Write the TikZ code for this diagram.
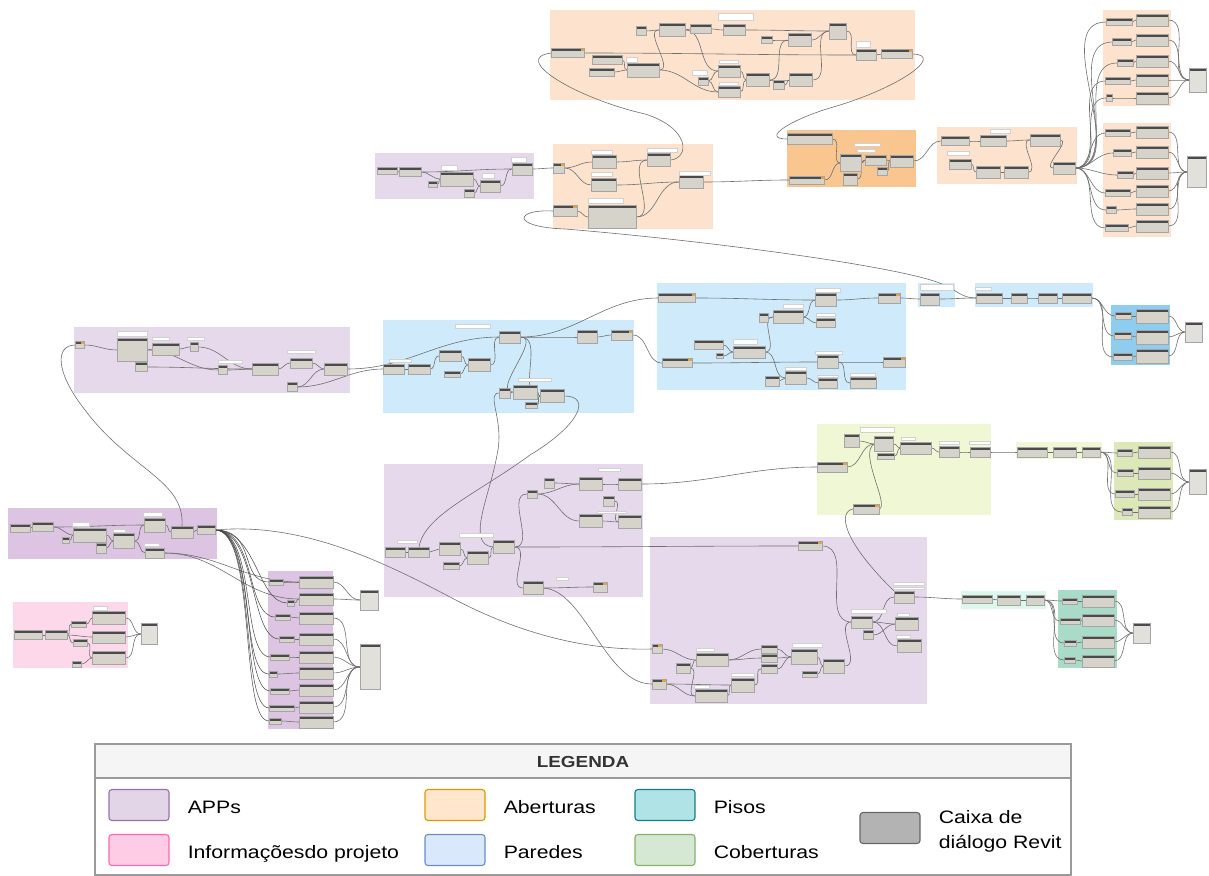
\documentclass[tikz,border=0pt]{standalone}
\usepackage{fontspec}
\setmainfont{Liberation Sans}
\newfontfamily\legfont[FakeStretch=1.18]{Liberation Sans}
\usetikzlibrary{positioning}

% node parts
\definecolor{dynbody}{HTML}{D6D3CB}
\definecolor{dynhead}{HTML}{4B4B4B}
\definecolor{dynedge}{HTML}{A5A5A5}
\definecolor{selmark}{HTML}{E6A33E}
\definecolor{wirecol}{HTML}{6F6F6F}
\definecolor{bundlecol}{HTML}{474747}
% group fills
\definecolor{appgrp}{HTML}{E6D9EC}
\definecolor{appdark}{HTML}{DCC4E2}
\definecolor{infogrp}{HTML}{FDD8EB}
\definecolor{abgrp}{HTML}{FDE3CD}
\definecolor{abdark}{HTML}{F9C690}
\definecolor{pargrp}{HTML}{CFEBFB}
\definecolor{pardark}{HTML}{8FCDF0}
\definecolor{cobgrp}{HTML}{F0F7D4}
\definecolor{cobdark}{HTML}{DCE8B8}
\definecolor{pisgrp}{HTML}{DCF7EC}
\definecolor{pisdark}{HTML}{A8DCC8}
% legend
\definecolor{keyapp}{HTML}{E1D5E7}\definecolor{keyappline}{HTML}{9673A6}
\definecolor{keyinfo}{HTML}{FFCCE6}\definecolor{keyinfoline}{HTML}{FF66B3}
\definecolor{keyab}{HTML}{FFE6CC}\definecolor{keyabline}{HTML}{D79B00}
\definecolor{keypar}{HTML}{DAE8FC}\definecolor{keyparline}{HTML}{6C8EBF}
\definecolor{keypis}{HTML}{B0E3E6}\definecolor{keypisline}{HTML}{0E8088}
\definecolor{keycob}{HTML}{D5E8D4}\definecolor{keycobline}{HTML}{82B366}
\definecolor{keyrvt}{HTML}{B3B3B3}\definecolor{keyrvtline}{HTML}{666666}
\definecolor{legframe}{HTML}{9A9A9A}
\definecolor{legband}{HTML}{F5F5F5}

\pgfdeclarelayer{groups}
\pgfdeclarelayer{wires}
\pgfsetlayers{groups,wires,main}

\begin{document}
\begin{tikzpicture}[x=1pt,y=-1pt,
    dyn/.style 2 args={draw=dynedge,line width=.3pt,fill=dynbody,inner sep=0pt,
      minimum width=#1pt,minimum height=#2pt,
      path picture={\fill[dynhead] (path picture bounding box.north west)
        rectangle ([yshift=-2.6pt]path picture bounding box.north east);}},
    sel/.style 2 args={dyn={#1}{#2},
      path picture={\fill[dynhead] (path picture bounding box.north west)
        rectangle ([yshift=-2.6pt]path picture bounding box.north east);
        \fill[selmark] ([xshift=-4pt]path picture bounding box.north east)
        rectangle ([yshift=-2.6pt]path picture bounding box.north east);}},
    watch/.style 2 args={dyn={#1}{#2},fill=dynbody!70!white},
    memo/.style 2 args={draw=black!18,line width=.3pt,fill=white,inner sep=0pt,
      minimum width=#1pt,minimum height=#2pt},
    wire/.style={every edge/.style={draw=wirecol,line width=.6pt,out=0,in=180}},
    link/.style={draw=wirecol,line width=.6pt},
    bundle/.style={draw=bundlecol,line width=.5pt},
    swatch/.style 2 args={fill=#1,draw=#2,line width=1.1pt,rounded corners=3pt,
      minimum width=60pt,minimum height=31pt},
    legfont/.style={font=\legfont\fontsize{18}{25}\selectfont,inner sep=0pt,yshift=-3.5pt},
    legtext/.style={legfont,text height=13pt,text depth=4pt}]

\useasboundingbox (0,0) rectangle (1209,875);

%% groups
\begin{pgfonlayer}{groups}
  \fill[abgrp] (550,10) rectangle (915,100);
  \fill[appgrp] (375,153) rectangle (534,199);
  \fill[abgrp] (553,144) rectangle (713,229);
  \fill[abdark] (787,130) rectangle (916,187);
  \fill[abgrp] (937,127) rectangle (1077,184);
  \fill[abgrp] (1103,10) rectangle (1171,106);
  \fill[abgrp] (1103,123) rectangle (1171,237);
  \fill[appgrp] (74,327) rectangle (350,393);
  \fill[pargrp] (383,320) rectangle (634,413);
  \fill[pargrp] (657,283) rectangle (906,390);
  \fill[pargrp] (918,283) rectangle (955,307);
  \fill[pargrp] (975,283) rectangle (1093,307);
  \fill[pardark] (1111,305) rectangle (1170,365);
  \fill[cobgrp] (817,424) rectangle (991,515);
  \fill[cobgrp] (1016,442) rectangle (1102,459);
  \fill[cobdark] (1114,442) rectangle (1173,520);
  \fill[appdark] (8,508) rectangle (217,559);
  \fill[infogrp] (13,602) rectangle (128,668);
  \fill[appdark] (268,571) rectangle (333,729);
  \fill[appgrp] (384,464) rectangle (643,597);
  \fill[appgrp] (650,537) rectangle (927,704);
  \fill[pisgrp] (961,591) rectangle (1046,609);
  \fill[pisdark] (1058,590) rectangle (1117,668);
\end{pgfonlayer}

%% aberturas, top
\node[sel={33}{9}] (g1a) at (568,53) {};
\node[dyn={30}{9}] (g1b) at (607,60) {};
\node[dyn={25}{8}] (g1c) at (602,72) {};
\node[dyn={32}{14}] (g1d) at (643,70) {};
\node[dyn={10}{9}] (g1e) at (641,31) {};
\node[dyn={26}{13}] (g1f) at (672,30) {};
\node[dyn={21}{9}] (g1g) at (701,29) {};
\node[dyn={22}{11}] (g1h) at (734,30) {};
\node[dyn={17}{16}] (g1i) at (838,31) {};
\node[dyn={11}{7}] (g1j) at (767,40) {};
\node[dyn={23}{13}] (g1k) at (800,40) {};
\node[dyn={20}{11}] (g1l) at (866,55) {};
\node[sel={31}{9}] (g1m) at (897,54) {};
\node[dyn={10}{8}] (g1n) at (703,81) {};
\node[dyn={22}{12}] (g1o) at (729,71) {};
\node[dyn={22}{11}] (g1p) at (729,92) {};
\node[dyn={23}{13}] (g1q) at (758,80) {};
\node[dyn={11}{9}] (g1r) at (779,85) {};
\node[dyn={23}{13}] (g1s) at (801,80) {};
\node[memo={11}{5}] (g1m1) at (632,60) {};
\node[memo={35}{7}] (g1m2) at (736,17) {};
\node[memo={14}{6}] (g1m3) at (863,44) {};
\node[memo={15}{5}] (g1m4) at (700,73) {};
\node[memo={19}{3}] (g1m5) at (729,62) {};
\node[memo={19}{3}] (g1m6) at (729,84) {};

%% app group next to it
\node[dyn={20}{7}] (g2a) at (387,171) {};
\node[dyn={22}{9}] (g2b) at (410,172) {};
\node[dyn={9}{6}] (g2c) at (433,184) {};
\node[dyn={33}{14}] (g2d) at (457,179) {};
\node[dyn={10}{8}] (g2e) at (469,193) {};
\node[dyn={20}{12}] (g2f) at (490,186) {};
\node[dyn={20}{12}] (g2g) at (522,169) {};
\node[memo={16}{5}] (g2m1) at (449,168) {};
\node[memo={12}{5}] (g2m2) at (488,176) {};
\node[memo={15}{5}] (g2m3) at (519,160) {};

\node[sel={11}{10}] (g3a) at (559,168) {};
\node[dyn={24}{13}] (g3b) at (604,162) {};
\node[dyn={25}{13}] (g3c) at (604,185) {};
\node[dyn={23}{13}] (g3d) at (659,160) {};
\node[dyn={24}{13}] (g3e) at (691,182) {};
\node[sel={24}{11}] (g3f) at (565,211) {};
\node[dyn={48}{23}] (g3g) at (612,217) {};
\node[memo={21}{4}] (g3m1) at (602,152) {};
\node[memo={21}{4}] (g3m2) at (602,174) {};
\node[memo={30}{4}] (g3m3) at (662,150) {};
\node[memo={31}{4}] (g3m4) at (695,173) {};
\node[memo={35}{5}] (g3m5) at (606,201) {};

\node[dyn={45}{11}] (g4a) at (810,139) {};
\node[sel={35}{8}] (g4b) at (807,180) {};
\node[dyn={21}{17}] (g4c) at (851,163) {};
\node[dyn={14}{12}] (g4d) at (850,179) {};
\node[dyn={21}{10}] (g4e) at (876,160) {};
\node[dyn={10}{8}] (g4f) at (882,171) {};
\node[dyn={23}{12}] (g4g) at (902,161) {};
\node[memo={26}{3}] (g4m1) at (867,145) {};
\node[memo={18}{3}] (g4m2) at (866,151) {};

\node[dyn={28}{9}] (g5a) at (955,141) {};
\node[dyn={22}{10}] (g5b) at (960,164) {};
\node[dyn={26}{11}] (g5c) at (993,141) {};
\node[dyn={24}{12}] (g5d) at (988,172) {};
\node[dyn={24}{12}] (g5e) at (1016,172) {};
\node[dyn={30}{12}] (g5f) at (1045,140) {};
\node[dyn={22}{12}] (g5g) at (1064,168) {};
\node[memo={22}{4}] (g5m1) at (958,153) {};
\node[memo={20}{4}] (g5m2) at (1000,131) {};

% two stacks of parameter setters
\foreach \x/\y/\w [count=\i] in {1119/22/26,1122/42/19,1125/63/16,1118/81/25,1109/98/6}
  \node[dyn={\w}{7}] (g6l\i) at (\x,\y) {};
\foreach \y [count=\i] in {20,40,61,80,98}
  \node[dyn={32}{12}] (g6r\i) at (1152,\y) {};
\node[watch={17}{24}] (g6w) at (1198,80) {};
\foreach \x/\y/\w [count=\i] in {1118/133/25,1122/153/18,1125/175/16,1118/193/25,1111/210/10,1117/228/23}
  \node[dyn={\w}{7}] (g7l\i) at (\x,\y) {};
\foreach \y [count=\i] in {132,152,173,191,209,226}
  \node[dyn={32}{12}] (g7r\i) at (1152,\y) {};
\node[watch={19}{31}] (g7w) at (1197,172) {};

%% app group, left
\node[sel={9}{7}] (g8a) at (80,345) {};
\node[dyn={30}{23}] (g8b) at (132,350) {};
\node[dyn={12}{9}] (g8c) at (141,367) {};
\node[dyn={27}{12}] (g8d) at (166,349) {};
\node[dyn={8}{9}] (g8e) at (194,347) {};
\node[dyn={9}{9}] (g8f) at (223,370) {};
\node[dyn={26}{12}] (g8g) at (265,369) {};
\node[dyn={22}{10}] (g8h) at (301,363) {};
\node[dyn={10}{9}] (g8i) at (292,387) {};
\node[dyn={23}{12}] (g8j) at (336,369) {};
\node[memo={30}{5}] (g8m1) at (132,334) {};
\node[memo={17}{3}] (g8m2) at (161,339) {};
\node[memo={17}{3}] (g8m3) at (196,339) {};
\node[memo={24}{3}] (g8m4) at (230,362) {};
\node[memo={28}{3}] (g8m5) at (301,352) {};

%% paredes
\node[dyn={21}{10}] (g9a) at (394,369) {};
\node[dyn={22}{10}] (g9b) at (419,369) {};
\node[dyn={22}{11}] (g9c) at (450,356) {};
\node[dyn={16}{6}] (g9d) at (452,374) {};
\node[dyn={22}{13}] (g9e) at (479,365) {};
\node[dyn={21}{12}] (g9f) at (510,337) {};
\node[dyn={20}{13}] (g9g) at (587,337) {};
\node[sel={21}{10}] (g9h) at (622,335) {};
\node[dyn={11}{10}] (g9i) at (505,393) {};
\node[dyn={24}{14}] (g9j) at (525,392) {};
\node[dyn={24}{13}] (g9k) at (552,396) {};
\node[dyn={12}{6}] (g9l) at (531,405) {};
\node[memo={35}{4}] (g9m1) at (473,326) {};
\node[memo={33}{3}] (g9m2) at (535,380) {};
\node[memo={22}{3}] (g9m3) at (400,361) {};

\node[sel={37}{9}] (g10a) at (677,298) {};
\node[sel={30}{9}] (g10b) at (677,363) {};
\node[dyn={29}{9}] (g10c) at (709,345) {};
\node[dyn={7}{5}] (g10d) at (720,356) {};
\node[dyn={32}{12}] (g10e) at (749,352) {};
\node[dyn={9}{9}] (g10f) at (764,318) {};
\node[dyn={30}{13}] (g10g) at (788,317) {};
\node[dyn={21}{13}] (g10h) at (826,300) {};
\node[dyn={19}{9}] (g10i) at (826,323) {};
\node[sel={22}{10}] (g10j) at (889,298) {};
\node[dyn={14}{10}] (g10k) at (772,381) {};
\node[dyn={21}{13}] (g10l) at (796,378) {};
\node[dyn={21}{13}] (g10m) at (828,362) {};
\node[dyn={19}{10}] (g10n) at (828,383) {};
\node[dyn={26}{11}] (g10o) at (863,383) {};
\node[sel={22}{10}] (g10p) at (894,362) {};
\node[memo={24}{5}] (g10m1) at (745,342) {};
\node[memo={20}{4}] (g10m2) at (793,306) {};
\node[memo={25}{4}] (g10m3) at (828,290) {};
\node[memo={19}{3}] (g10m4) at (826,315) {};
\node[memo={21}{3}] (g10m5) at (796,369) {};
\node[memo={27}{3}] (g10m6) at (829,353) {};
\node[memo={21}{2}] (g10m7) at (828,376) {};
\node[memo={25}{3}] (g10m8) at (863,375) {};

\node[dyn={19}{12}] (g11a) at (930,299) {};
\node[memo={33}{6}] (g11m1) at (937,287) {};
\node[dyn={26}{10}] (g12a) at (989,298) {};
\node[dyn={16}{10}] (g12b) at (1019,298) {};
\node[dyn={19}{10}] (g12c) at (1048,298) {};
\node[dyn={29}{10}] (g12d) at (1077,298) {};
\node[memo={16}{3}] (g12m1) at (983,289) {};
\foreach \y/\w [count=\i] in {316/16,336/17,357/19}
  \node[dyn={\w}{7}] (g13l\i) at (1123,\y) {};
\foreach \y [count=\i] in {316,337,356}
  \node[dyn={32}{14}] (g13r\i) at (1152,\y) {};
\node[watch={17}{20}] (g13w) at (1194,332) {};

%% coberturas
\node[sel={30}{10}] (g14a) at (832,467) {};
\node[dyn={15}{13}] (g14b) at (852,441) {};
\node[dyn={19}{15}] (g14c) at (884,444) {};
\node[dyn={17}{6}] (g14d) at (886,456) {};
\node[dyn={31}{12}] (g14e) at (916,448) {};
\node[dyn={20}{11}] (g14f) at (949,452) {};
\node[dyn={20}{10}] (g14g) at (980,452) {};
\node[sel={26}{10}] (g14h) at (866,509) {};
\node[memo={34}{5}] (g14m1) at (877,430) {};
\node[memo={14}{3}] (g14m2) at (908,439) {};
\node[memo={20}{3}] (g14m3) at (949,443) {};
\node[memo={21}{3}] (g14m4) at (980,443) {};
\node[dyn={30}{10}] (g15a) at (1032,452) {};
\node[dyn={23}{10}] (g15b) at (1065,452) {};
\node[dyn={18}{10}] (g15c) at (1091,452) {};
\foreach \x/\y/\w [count=\i] in {1125/453/15,1125/473/16,1125/494/19,1127/512/10}
  \node[dyn={\w}{7}] (g16l\i) at (\x,\y) {};
\foreach \y [count=\i] in {452,473,494,512}
  \node[dyn={32}{12}] (g16r\i) at (1154,\y) {};
\node[watch={17}{25}] (g16w) at (1198,482) {};

%% app group, far left
\node[dyn={20}{8}] (g17a) at (20,528) {};
\node[dyn={21}{9}] (g17b) at (43,527) {};
\node[dyn={7}{6}] (g17c) at (66,540) {};
\node[dyn={33}{14}] (g17d) at (90,535) {};
\node[dyn={10}{10}] (g17e) at (101,548) {};
\node[dyn={21}{15}] (g17f) at (124,541) {};
\node[dyn={21}{14}] (g17g) at (155,525) {};
\node[dyn={19}{10}] (g17h) at (155,553) {};
\node[dyn={22}{12}] (g17i) at (182,532) {};
\node[dyn={18}{9}] (g17j) at (206,530) {};
\node[memo={17}{4}] (g17m1) at (81,524) {};
\node[memo={12}{3}] (g17m2) at (119,531) {};
\node[memo={19}{4}] (g17m3) at (153,514) {};
\node[memo={15}{3}] (g17m4) at (152,545) {};

%% informacoes do projeto
\node[dyn={28}{9}] (g18a) at (28,635) {};
\node[dyn={22}{9}] (g18b) at (56,635) {};
\node[dyn={15}{6}] (g18c) at (79,624) {};
\node[dyn={14}{7}] (g18d) at (80,643) {};
\node[dyn={9}{6}] (g18e) at (77,664) {};
\node[dyn={33}{13}] (g18f) at (109,618) {};
\node[dyn={33}{12}] (g18g) at (109,637) {};
\node[dyn={33}{13}] (g18h) at (109,658) {};
\node[watch={16}{21}] (g18w) at (149,634) {};
\node[memo={14}{4}] (g18m1) at (100,608) {};

% column of setters
\foreach \x/\y/\w [count=\i] in {276/582/14,291/603/7,283/617/15,287/639/15,280/657/19,273/674/8,280/691/19,282/708/25,275/721/12}
  \node[dyn={\w}{6}] (g19l\i) at (\x,\y) {};
\foreach \y [count=\i] in {582,599,618,639,657,673,690,707,722}
  \node[dyn={34}{12}] (g19r\i) at (316,\y) {};
\node[watch={18}{20}] (g19w1) at (369,600) {};
\node[watch={20}{45}] (g19w2) at (370,667) {};

%% app groups, middle
\node[dyn={20}{10}] (g20a) at (395,552) {};
\node[dyn={21}{10}] (g20b) at (419,552) {};
\node[dyn={21}{13}] (g20c) at (450,549) {};
\node[dyn={16}{7}] (g20d) at (451,566) {};
\node[dyn={21}{13}] (g20e) at (478,558) {};
\node[dyn={21}{13}] (g20f) at (504,547) {};
\node[dyn={10}{8}] (g20g) at (532,494) {};
\node[dyn={10}{10}] (g20h) at (549,483) {};
\node[dyn={23}{13}] (g20i) at (591,484) {};
\node[dyn={11}{10}] (g20j) at (609,501) {};
\node[dyn={23}{13}] (g20k) at (591,521) {};
\node[dyn={23}{12}] (g20l) at (630,484) {};
\node[dyn={23}{13}] (g20m) at (630,522) {};
\node[dyn={20}{13}] (g20n) at (533,588) {};
\node[sel={14}{10}] (g20o) at (600,587) {};
\node[memo={20}{3}] (g20m1) at (407,542) {};
\node[memo={34}{4}] (g20m2) at (476,535) {};
\node[memo={22}{3}] (g20m3) at (609,470) {};
\node[memo={29}{2}] (g20m4) at (612,512) {};
\node[memo={12}{3}] (g20m5) at (562,579) {};

\node[sel={24}{9}] (g21a) at (810,546) {};
\node[sel={10}{9}] (g21b) at (657,649) {};
\node[sel={14}{10}] (g21c) at (659,684) {};
\node[dyn={14}{10}] (g21d) at (683,668) {};
\node[dyn={32}{13}] (g21e) at (712,660) {};
\node[dyn={32}{13}] (g21f) at (711,696) {};
\node[dyn={23}{14}] (g21g) at (743,685) {};
\node[dyn={16}{8}] (g21h) at (769,649) {};
\node[dyn={16}{8}] (g21i) at (769,658) {};
\node[dyn={16}{9}] (g21j) at (769,669) {};
\node[dyn={26}{15}] (g21k) at (804,657) {};
\node[dyn={15}{6}] (g21l) at (810,674) {};
\node[dyn={21}{14}] (g21m) at (834,666) {};
\node[dyn={21}{12}] (g21n) at (862,622) {};
\node[dyn={10}{9}] (g21o) at (868,635) {};
\node[dyn={20}{12}] (g21p) at (904,597) {};
\node[dyn={23}{13}] (g21q) at (907,624) {};
\node[dyn={24}{13}] (g21r) at (909,646) {};
\node[memo={18}{3}] (g21m1) at (705,650) {};
\node[memo={15}{3}] (g21m2) at (702,687) {};
\node[memo={23}{3}] (g21m3) at (743,675) {};
\node[memo={30}{4}] (g21m4) at (807,645) {};
\node[memo={35}{4}] (g21m5) at (869,611) {};
\node[memo={31}{3}] (g21m6) at (909,584) {};
\node[memo={31}{2}] (g21m7) at (909,588) {};
\node[memo={12}{3}] (g21m8) at (903,615) {};
\node[memo={14}{3}] (g21m9) at (903,637) {};

%% pisos
\node[dyn={30}{8}] (g22a) at (977,599) {};
\node[dyn={23}{10}] (g22b) at (1009,600) {};
\node[dyn={18}{10}] (g22c) at (1035,600) {};
\foreach \y/\w [count=\i] in {601/15,621/20,643/12,660/11}
  \node[dyn={\w}{6}] (g23l\i) at (1070,\y) {};
\foreach \y [count=\i] in {601,620,642,661}
  \node[dyn={32}{12}] (g23r\i) at (1098,\y) {};
\node[watch={17}{20}] (g23w) at (1142,633) {};

%% connectors
\begin{pgfonlayer}{wires}
  \path[wire] (g1a) edge (g1l)
    (g1b) edge (g1d) (g1c) edge (g1d)
    (g1d) edge (g1f) (g1d) edge (g1p)
    (g1e) edge (g1f)
    (g1f) edge (g1g) (g1f) edge (g1o)
    (g1g) edge (g1h) (g1h) edge (g1i)
    (g1n) edge (g1o) (g1n) edge (g1p)
    (g1o) edge (g1q) (g1p) edge (g1q)
    (g1q) edge (g1k) (g1q) edge (g1s)
    (g1j) edge (g1k) (g1k) edge (g1i)
    (g1r) edge (g1s) (g1s) edge (g1i)
    (g1i) edge (g1l) (g1l) edge (g1m);
  \path[wire] (g2a) edge (g2b) (g2b) edge (g2d) (g2c) edge (g2d)
    (g2d) edge (g2f) (g2e) edge (g2f) (g2f) edge (g2g) (g2b) edge (g2g)
    (g2g) edge (g3a)
    (g3a) edge (g3b) (g3a) edge (g3c) (g3b) edge (g3d) (g3c) edge (g3e)
    (g3g) edge (g3d) (g3g) edge (g3e) (g3f) edge (g3g)
    (g3e) edge (g4b);
  \path[wire] (g4a) edge (g4c) (g4b) edge (g4c) (g4c) edge (g4e)
    (g4d) edge (g4e) (g4e) edge (g4g) (g4f) edge (g4g) (g4g) edge (g5a)
    (g5a) edge (g5c) (g5b) edge (g5d) (g5d) edge (g5e) (g5c) edge (g5f)
    (g5e) edge (g5f) (g5f) edge (g5g);
  \draw[link] (g3d.east) .. controls (690,158) and (690,128) .. (645,114)
    .. controls (575,98) and (510,58) .. (g1a.west);
  \draw[link] (g1m.east) .. controls (945,55) and (900,88) .. (830,108)
    .. controls (790,120) and (760,139) .. (g4a.west);
  \draw[link] (g3f.west) .. controls (515,209) and (510,227) .. (565,229)
    .. controls (700,240) and (900,266) .. (942,284)
    .. controls (958,291) and (962,298) .. (g12a.west);

  \foreach \i in {1,...,5}
    \path[wire] (g5g) edge (g6l\i) (g6l\i) edge (g6r\i) (g6r\i) edge (g6w);
  \foreach \i in {1,...,6}
    \path[wire] (g5g) edge (g7l\i) (g7l\i) edge (g7r\i) (g7r\i) edge (g7w);

  \path[wire] (g8a) edge (g8b) (g8b) edge (g8d) (g8d) edge (g8e)
    (g8e) edge (g8g) (g8b) edge (g8f) (g8c) edge (g8g) (g8f) edge (g8g)
    (g8g) edge (g8h) (g8h) edge (g8j) (g8i) edge (g8j)
    (g8i) edge (g9a) (g8j) edge (g9f);
  \draw[link] (g8a.west) .. controls (55,345) and (55,372) .. (85,410)
    .. controls (130,470) and (185,480) .. (g17i.north);

  \path[wire] (g9a) edge (g9b) (g9b) edge (g9c) (g9c) edge (g9e)
    (g9d) edge (g9e) (g9e) edge (g9f) (g9f) edge (g9g) (g9g) edge (g9h)
    (g9f) edge (g9j) (g9f) edge (g9k) (g9i) edge (g9j) (g9j) edge (g9k)
    (g9l) edge (g9k)
    (g9f) edge (g10a) (g9h) edge (g10b);
  \path[wire] (g10a) edge (g10h) (g10h) edge (g10j) (g10b) edge (g10m)
    (g10m) edge (g10p) (g10c) edge (g10e) (g10d) edge (g10e)
    (g10e) edge (g10g) (g10e) edge (g10l) (g10f) edge (g10g)
    (g10g) edge (g10h) (g10g) edge (g10i) (g10k) edge (g10l)
    (g10l) edge (g10n) (g10m) edge (g10o)
    (g10j) edge (g11a) (g11a) edge (g12a)
    (g12a) edge (g12b) (g12b) edge (g12c) (g12c) edge (g12d);
  \foreach \i in {1,2,3}
    \path[wire] (g12d) edge (g13l\i) (g13l\i) edge (g13r\i) (g13r\i) edge (g13w);

  \path[wire] (g14a) edge (g14c) (g14b) edge (g14c) (g14c) edge (g14e)
    (g14d) edge (g14e) (g14e) edge (g14f) (g14f) edge (g14g)
    (g14g) edge (g15a) (g15a) edge (g15b) (g15b) edge (g15c);
  \draw[link] (g14h.east) .. controls (890,506) and (858,452) .. (g14c.west);
  \foreach \i in {1,...,4}
    \path[wire] (g15c) edge (g16l\i) (g16l\i) edge (g16r\i) (g16r\i) edge (g16w);

  \path[wire] (g17a) edge (g17b) (g17b) edge (g17d) (g17c) edge (g17d)
    (g17d) edge (g17f) (g17e) edge (g17f) (g17f) edge (g17g)
    (g17f) edge (g17h) (g17b) edge (g17g) (g17g) edge (g17i)
    (g17i) edge (g17j)
    (g17h) edge (g19r1) (g17h) edge (g19r2);
  \foreach \i in {1,...,9}
    \draw[bundle] (g17j.east) .. controls +(42,0) and +(-30,0) .. (g19l\i.west);
  \foreach \i in {1,...,9}
    \path[wire] (g19l\i) edge (g19r\i);
  \foreach \i in {1,2}
    \path[wire] (g19r\i) edge (g19w1);
  \foreach \i in {3,...,9}
    \path[wire] (g19r\i) edge (g19w2);
  \draw[link] (g17j.east) .. controls (300,522) and (380,560) .. (450,597)
    .. controls (540,645) and (610,650) .. (g21b.west);

  \path[wire] (g18a) edge (g18b) (g18b) edge (g18c) (g18b) edge (g18d)
    (g18b) edge (g18g) (g18c) edge (g18f) (g18d) edge (g18h)
    (g18e) edge (g18h) (g18f) edge (g18w) (g18g) edge (g18w)
    (g18h) edge (g18w);

  \path[wire] (g20a) edge (g20b) (g20b) edge (g20c) (g20c) edge (g20e)
    (g20d) edge (g20e) (g20e) edge (g20f) (g20f) edge (g20g)
    (g20g) edge (g20i) (g20h) edge (g20i) (g20g) edge (g20k)
    (g20i) edge (g20l) (g20k) edge (g20m) (g20j) edge (g20m)
    (g20f) edge (g20n) (g20n) edge (g20o)
    (g20l) edge (g14a) (g20f) edge (g21a);
  \draw[link] (g9k.east) .. controls (592,396) and (580,425) .. (530,455)
    .. controls (475,495) and (425,515) .. (g20b.north);
  \draw[link] (g9i.west) .. controls (485,393) and (505,420) .. (497,455)
    .. controls (490,495) and (465,545) .. (g20f.west);
  \draw[link] (g20n.east) .. controls (585,590) and (605,684) .. (g21c.west);

  \path[wire] (g21a) edge (g21n) (g21b) edge (g21e) (g21c) edge (g21f)
    (g21c) edge (g21g) (g21d) edge (g21e) (g21d) edge (g21f)
    (g21e) edge (g21h) (g21e) edge (g21i) (g21f) edge (g21g)
    (g21g) edge (g21j) (g21h) edge (g21k) (g21i) edge (g21k)
    (g21j) edge (g21k) (g21k) edge (g21m) (g21l) edge (g21m)
    (g21m) edge (g21n) (g21n) edge (g21p) (g21n) edge (g21q)
    (g21n) edge (g21r) (g21o) edge (g21q)
    (g21p) edge (g22a) (g22a) edge (g22b) (g22b) edge (g22c);
  \draw[link] (g14h.west) .. controls (838,512) and (842,540) .. (g21p.north west);
  \foreach \i in {1,...,4}
    \path[wire] (g22c) edge (g23l\i) (g23l\i) edge (g23r\i) (g23r\i) edge (g23w);
\end{pgfonlayer}

%% legend
\fill[legband] (95,744) rectangle (1071,778);
\draw[legframe,line width=1.4pt] (95,744) rectangle (1071,875);
\draw[legframe,line width=1.4pt] (95,778) -- (1071,778);
\node[font=\legfont\fontsize{16}{19}\selectfont\bfseries,text=black!80] (legtitle) at (583,762) {LEGENDA};

\node[swatch={keyapp}{keyappline}] (kapp) at (139,805) {};
\node[swatch={keyinfo}{keyinfoline}] (kinfo) at (139,850) {};
\node[swatch={keyab}{keyabline}] (kab) at (455,805) {};
\node[swatch={keypar}{keyparline}] (kpar) at (455,850) {};
\node[swatch={keypis}{keypisline}] (kpis) at (665,805) {};
\node[swatch={keycob}{keycobline}] (kcob) at (665,850) {};
\node[swatch={keyrvt}{keyrvtline}] (krvt) at (890,828) {};

\node[legtext,right=18pt of kapp] (tapp) {APPs};
\node[legtext,right=18pt of kinfo] (tinfo) {Informaçõesdo projeto};
\node[legtext,right=18pt of kab] (tab) {Aberturas};
\node[legtext,right=18pt of kpar] (tpar) {Paredes};
\node[legtext,right=18pt of kpis] (tpis) {Pisos};
\node[legtext,right=18pt of kcob] (tcob) {Coberturas};
\node[legfont,align=left,right=18pt of krvt] (trvt) {Caixa de\\diálogo Revit};
\end{tikzpicture}
\end{document}
